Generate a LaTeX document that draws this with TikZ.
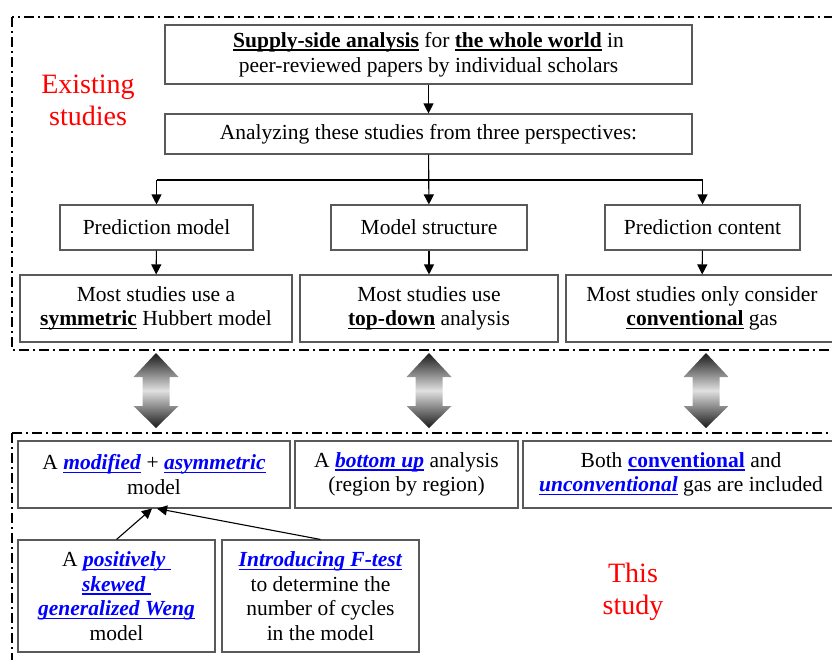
\documentclass[tikz,border=0pt]{standalone}
\usepackage{fontspec}
\setmainfont{Liberation Serif}
\usepackage{xcolor}
\usetikzlibrary{arrows.meta}
\newcommand{\thul}[1]{\setbox0\hbox{#1}\rlap{\rule[-3.5pt]{\wd0}{1.6pt}}\box0\relax}
\newcommand{\bul}[1]{\thul{\textbf{#1}}}
\newcommand{\hlit}[1]{\textcolor{blue}{\thul{\textbf{\textit{#1}}}}}
\newcommand{\hlup}[1]{\textcolor{blue}{\thul{\textbf{#1}}}}

\begin{document}
\begin{tikzpicture}[x=1pt,y=-1pt,
		box/.style={draw=black!65, line width=1.1pt, fill=white, align=center, inner sep=0pt},
		frame/.style={line width=1.5pt, dash pattern=on 10pt off 4pt on 2pt off 4pt},
		flow/.style={-{Triangle[length=10pt,width=10pt]}, line width=1.1pt},
		label/.style={text=red, font=\fontsize{28}{32}\selectfont, align=center},
		font=\fontsize{21.5}{24.5}\selectfont]
		\useasboundingbox (0,0) rectangle (832,659);
		\clip (0,0) rectangle (832,659);
		% frames
		\draw[frame] (12,17) rectangle (850,350);
		\draw[frame] (12,433) rectangle (850,680);
		\node[label] (existing) at (88,100) {Existing\\studies};
		\node[label] (thisstudy) at (633,592) {This\\study};
		% existing studies
		\node[box, minimum width=527pt, minimum height=59pt] (supply) at (428.5,54.5) {\bul{Supply-side analysis} for \bul{the whole world} in\\peer-reviewed papers by individual scholars};
		\node[box, minimum width=527pt, minimum height=40pt] (analyze) at (428.5,134) {Analyzing these studies from three perspectives:};
		\node[box, minimum width=193pt, minimum height=45pt] (predmodel) at (156.5,227.5) {Prediction model};
		\node[box, minimum width=196pt, minimum height=45pt] (structure) at (429,227.5) {Model structure};
		\node[box, minimum width=195pt, minimum height=45pt] (content) at (702.5,227.5) {Prediction content};
		\node[box, minimum width=272pt, minimum height=67pt] (symmetric) at (156,308.5) {Most studies use a\\\bul{symmetric} Hubbert model};
		\node[box, minimum width=258pt, minimum height=67pt] (topdown) at (429,308.5) {Most studies use\\\bul{top-down} analysis};
		\node[box, minimum width=272pt, minimum height=67pt] (conventional) at (702,308.5) {Most studies only consider\\\bul{conventional} gas};
		\coordinate (split) at (428.5,180);
		\draw[flow] (supply) -- (analyze);
		\draw[line width=1.1pt] (predmodel.north |- split) -- (content.north |- split);
		\draw[flow] (analyze) -- (structure);
		\draw[flow] (predmodel.north |- split) -- (predmodel);
		\draw[flow] (content.north |- split) -- (content);
		\draw[flow] (predmodel) -- (symmetric);
		\draw[flow] (structure) -- (topdown);
		\draw[flow] (content) -- (conventional);
		% double arrows
		\foreach \x in {156,429,706}
		\shade[top color=black!90, bottom color=black!90, middle color=black!12]
		(\x,353) -- (\x+22.5,377) -- (\x+13.5,377) -- (\x+13.5,406) -- (\x+22.5,406)
		-- (\x,428) -- (\x-22.5,406) -- (\x-13.5,406) -- (\x-13.5,377) -- (\x-22.5,377) -- cycle;
		% this study
		\node[box, minimum width=272pt, minimum height=67pt] (asym) at (154,474.5) {A \hlit{modified} + \hlit{asymmetric}\\model};
		\node[box, minimum width=223pt, minimum height=67pt] (bottomup) at (406.5,474.5) {A \hlit{bottom up} analysis\\(region by region)};
		\node[box, minimum width=316pt, minimum height=67pt] (both) at (681,474.5) {Both \hlup{conventional} and\\\hlit{unconventional} gas are included};
		\node[box, minimum width=197pt, minimum height=112pt] (weng) at (116.5,596) {A \hlit{positively }\\\hlit{skewed }\\\hlit{generalized Weng}\\model};
		\node[box, minimum width=197pt, minimum height=112pt] (ftest) at (320.5,596) {\hlit{Introducing F-test}\\to determine the\\number of cycles\\in the model};
		\draw[flow] (weng.north) -- ([xshift=-2pt]asym.south);
		\draw[flow] (ftest.north) -- ([xshift=3pt]asym.south);
\end{tikzpicture}
\end{document}
